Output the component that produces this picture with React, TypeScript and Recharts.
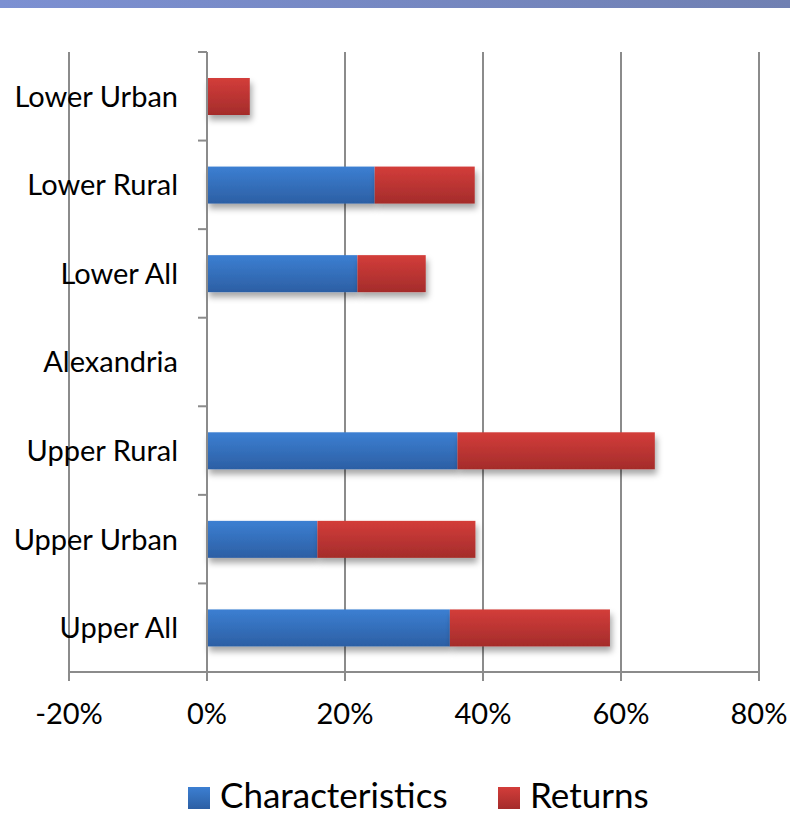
import React from 'react';
import { BarChart, Bar, XAxis, YAxis, CartesianGrid, ReferenceLine, Legend } from 'recharts';

const categories = ['Lower Urban', 'Lower Rural', 'Lower All', 'Alexandria', 'Upper Rural', 'Upper Urban', 'Upper All'];
const characteristics = [0, 24.3, 21.8, 0, 36.3, 16.0, 35.2];
const returns = [6.2, 14.5, 9.9, 0, 28.6, 22.9, 23.2];
const xTicks = [-20, 0, 20, 40, 60, 80];
const seriesNames = ['Characteristics', 'Returns'];

const data = categories.map((name, i) => ({
  name,
  characteristics: characteristics[i],
  returns: returns[i],
}));

const W = 790;
const H = 816;
const YAXIS_W = 1;
const MARGIN = { top: 52, right: 31, left: 68, bottom: 0 };
const LEGEND_H = 46;
const XAXIS_H = 98;
const PLOT_LEFT = MARGIN.left + YAXIS_W;
const PLOT_W = W - PLOT_LEFT - MARGIN.right;
const PLOT_H = H - MARGIN.top - MARGIN.bottom - LEGEND_H - XAXIS_H;
const X_MIN = xTicks[0];
const X_MAX = xTicks[xTicks.length - 1];
const ZERO_X = PLOT_LEFT + ((0 - X_MIN) / (X_MAX - X_MIN)) * PLOT_W;
const BAND = PLOT_H / categories.length;
const GRID = '#8b8b8b';
const FONT = 'Lato, "Open Sans", sans-serif';
const LABEL_SIZE = 29;

const YTick = (props: any) => {
  const { y, payload, index } = props;
  const isLast = index === categories.length - 1;
  return (
    <g>
      <text
        x={178}
        y={y + LABEL_SIZE * 0.36}
        textAnchor="end"
        fontFamily={FONT}
        fontSize={LABEL_SIZE}
        fill="#000"
      >
        {payload.value}
      </text>
      <line x1={ZERO_X - 9} x2={ZERO_X} y1={y - BAND / 2} y2={y - BAND / 2} stroke={GRID} strokeWidth={2} />
      {isLast && (
        <line x1={ZERO_X - 9} x2={ZERO_X} y1={y + BAND / 2} y2={y + BAND / 2} stroke={GRID} strokeWidth={2} />
      )}
    </g>
  );
};

const BarShape = (p: any) => {
  if (!p.width || p.width <= 0) return <g />;
  return <rect x={p.x} y={p.y} width={p.width} height={p.height} fill={p.fill} filter="url(#barShadow)" />;
};

const LegendContent = () => (
  <div
    style={{
      position: 'relative',
      height: LEGEND_H,
      width: W,
      fontFamily: FONT,
      fontSize: 35,
      color: '#000',
    }}
  >
    {seriesNames.map((n, i) => (
      <div
        key={n}
        style={{
          position: 'absolute',
          left: i === 0 ? 188 : 498,
          top: 9,
          display: 'flex',
          alignItems: 'flex-start',
          whiteSpace: 'nowrap',
          lineHeight: '30px',
          height: 30,
        }}
      >
        <span
          style={{
            display: 'inline-block',
            width: 22,
            height: 22,
            marginTop: 8,
            marginRight: 10,
            background: i === 0
              ? 'linear-gradient(#3c7fd2, #2c5fa4)'
              : 'linear-gradient(#d33d3a, #a42c2b)',
          }}
        />
        <span>{n}</span>
      </div>
    ))}
  </div>
);

export default function App() {
  return (
    <div style={{ position: 'absolute', left: 0, top: 0, width: W, height: H, background: '#fff', overflow: 'hidden' }}>
      <div
        style={{
          position: 'absolute',
          left: 0,
          top: 0,
          width: W,
          height: 8,
          background: 'linear-gradient(to right, #7c90d2, #7080b2)',
        }}
      />
      <BarChart width={W} height={H} data={data} layout="vertical" margin={MARGIN} barCategoryGap={0}>
        <defs>
          <linearGradient id="blueGrad" x1="0" y1="0" x2="0" y2="1">
            <stop offset="0%" stopColor="#3c7fd2" />
            <stop offset="100%" stopColor="#2c5fa4" />
          </linearGradient>
          <linearGradient id="redGrad" x1="0" y1="0" x2="0" y2="1">
            <stop offset="0%" stopColor="#d33d3a" />
            <stop offset="100%" stopColor="#a42c2b" />
          </linearGradient>
          <filter id="barShadow" x="-10%" y="-20%" width="130%" height="180%">
            <feDropShadow dx="2" dy="5" stdDeviation="3" floodColor="#000" floodOpacity="0.35" />
          </filter>
        </defs>
        <CartesianGrid horizontal={false} vertical stroke={GRID} strokeWidth={2} />
        <XAxis
          type="number"
          domain={[X_MIN, X_MAX]}
          ticks={xTicks}
          tickFormatter={(v: number) => `${v}%`}
          height={XAXIS_H}
          axisLine={{ stroke: GRID, strokeWidth: 2 }}
          tickLine={{ stroke: GRID, strokeWidth: 2 }}
          tickSize={9}
          tickMargin={22}
          tick={{ fill: '#000', fontSize: 29, fontFamily: FONT }}
          interval={0}
        />
        <YAxis
          type="category"
          dataKey="name"
          width={YAXIS_W}
          axisLine={false}
          tickLine={false}
          tick={<YTick />}
          interval={0}
        />
        <ReferenceLine x={0} stroke={GRID} strokeWidth={2} ifOverflow="visible" />
        <Legend
          verticalAlign="bottom"
          height={LEGEND_H}
          wrapperStyle={{ left: 0, width: W }}
          content={<LegendContent />}
        />
        <Bar
          dataKey="characteristics"
          name={seriesNames[0]}
          stackId="a"
          fill="url(#blueGrad)"
          barSize={37}
          shape={<BarShape />}
          isAnimationActive={false}
        />
        <Bar
          dataKey="returns"
          name={seriesNames[1]}
          stackId="a"
          fill="url(#redGrad)"
          barSize={37}
          shape={<BarShape />}
          isAnimationActive={false}
        />
      </BarChart>
    </div>
  );
}
